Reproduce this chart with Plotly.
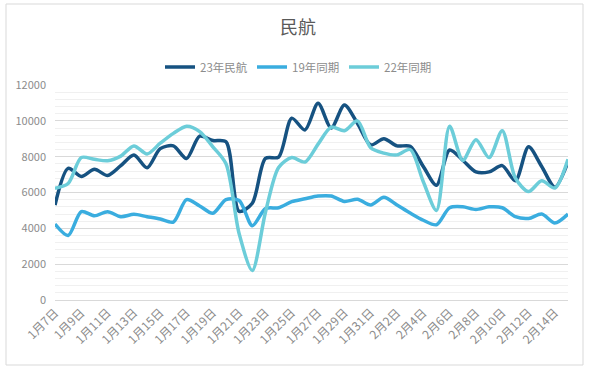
import plotly.graph_objects as go

dates = [f"1月{d}日" for d in range(7, 32)] + [f"2月{d}日" for d in range(1, 16)]

s23 = [5300, 7350, 6900, 7300, 6950, 7500, 8100, 7380, 8450, 8600,
       7900, 9150, 8900, 8830, 4950, 5400, 7900, 7980, 10150, 9490,
       10980, 9600, 10880, 9850, 8650, 9000, 8600, 8580, 7450, 6400,
       8370, 7800, 7150, 7150, 7500, 6650, 8550, 7450, 6300, 7700]
s19 = [4240, 3600, 4930, 4700, 4930, 4650, 4780, 4650, 4520, 4350,
       5600, 5250, 4840, 5600, 5550, 4150, 5100, 5150, 5490, 5650,
       5800, 5800, 5500, 5620, 5300, 5730, 5300, 4850, 4450, 4200,
       5150, 5200, 5050, 5200, 5150, 4650, 4550, 4800, 4300, 4800]
s22 = [6230, 6500, 7950, 7850, 7770, 8030, 8600, 8150, 8750, 9300,
       9700, 9400, 8550, 7600, 3700, 1650, 4900, 7400, 7950, 7700,
       8700, 9650, 9450, 10000, 8500, 8200, 8100, 8400, 6600, 5000,
       9700, 7800, 8950, 7950, 9450, 6800, 6050, 6650, 6250, 7850]

names = ["23年民航", "19年同期", "22年同期"]
colors = ["#165281", "#3AADDF", "#6CCDD9"]
tick_labels = dates[::2]
font_family = "Noto Sans CJK SC, Microsoft YaHei, sans-serif"

fig = go.Figure()
for name, vals, col in zip(names, [s23, s19, s22], colors):
    fig.add_trace(go.Scatter(x=dates, y=vals, name=name, mode="lines",
                             line=dict(color=col, width=3.5, shape="spline", smoothing=0.8)))

W, H = 596, 372
L, R, T, B = 55, 28, 85, 72
pw = W - L - R
ph = H - T - B

def px_x(x):
    return (x - L) / pw

def px_y(y):
    return (H - B - y) / ph

fig.update_layout(
    width=W, height=H,
    margin=dict(l=L, r=R, t=T, b=B),
    paper_bgcolor="white", plot_bgcolor="white",
    font=dict(family=font_family, color="#8c8c8c", size=11),
    title=dict(text="民航", x=0.5, xref="container", y=1 - 28 / H, yref="container",
               xanchor="center", yanchor="middle",
               font=dict(size=18, color="#595959", family=font_family)),
    legend=dict(orientation="h", x=px_x(298), xanchor="center", y=px_y(67), yanchor="middle",
                font=dict(size=11.5, color="#8c8c8c"), itemwidth=30, tracegroupgap=0,
                entrywidth=47, entrywidthmode="pixels",
                bgcolor="rgba(0,0,0,0)"),
    showlegend=True,
    shapes=[dict(type="rect", xref="paper", yref="paper",
                 x0=px_x(6), x1=px_x(583), y0=px_y(365), y1=px_y(4),
                 line=dict(color="#d9d9d9", width=1), fillcolor="rgba(0,0,0,0)", layer="below")],
)

fig.update_xaxes(type="category", categoryorder="array", categoryarray=dates,
                 range=[0, len(dates) - 1], tickmode="array", tickvals=tick_labels,
                 ticktext=tick_labels, tickangle=-45, showgrid=False, showline=True,
                 linecolor="#d9d9d9", linewidth=1, ticks="", tickfont=dict(size=12, color="#8c8c8c"),
                 zeroline=False, automargin=False)
fig.update_yaxes(range=[0, 12000], dtick=2000, tick0=0, tickformat="d", showgrid=True,
                 gridcolor="#d9d9d9", gridwidth=1, zeroline=False, showline=False, ticks="",
                 tickfont=dict(size=11, color="#8c8c8c"), ticklabelstandoff=8, automargin=False,
                 minor=dict(dtick=400, tick0=0, showgrid=True, gridcolor="#f0f0f0", gridwidth=1))

fig.write_html("out.html", config={"displayModeBar": False},
               post_script="document.body.style.margin='0px';")
